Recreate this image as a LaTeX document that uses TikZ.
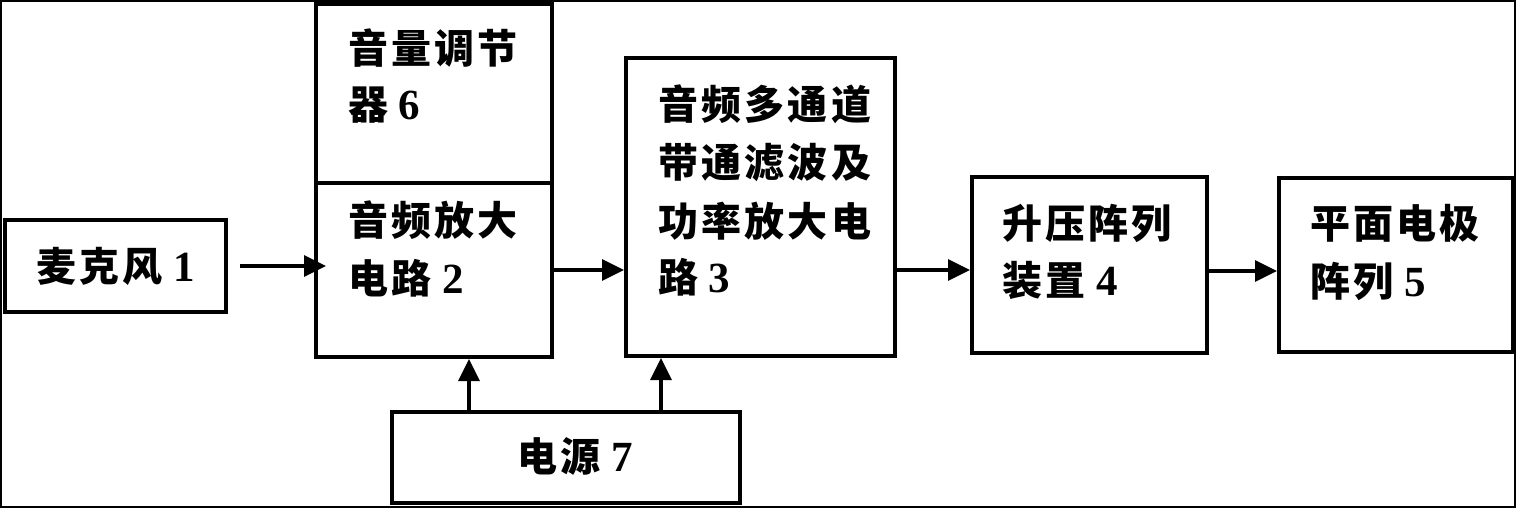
\documentclass[tikz,border=0pt]{standalone}
\usepackage{fontspec}
\setmainfont{Liberation Serif}
\newfontfamily\cjk[LetterSpace=8]{Noto Sans CJK SC}
\usetikzlibrary{arrows.meta,calc}
\newcommand{\zh}[1]{{\fontsize{40}{42}\selectfont\cjk\bfseries #1}}
\tikzset{
  blk/.style={draw=black, line width=4pt, rectangle, inner sep=0pt},
  lbl/.style={anchor=base west, inner sep=0pt, font=\fontsize{43}{45}\selectfont\bfseries},
  arr/.style={line width=3.2pt, -{Triangle[length=22pt,width=21pt]}},
}
\begin{document}
\begin{tikzpicture}[x=1pt,y=-1pt]
\useasboundingbox (0,0) rectangle (1516,508);
\draw[line width=2.5pt] (1,1) rectangle (1515,507);
% boxes
\node[blk, minimum width=221pt, minimum height=92pt] (mic) at (115.5,266) {};
\node[blk, minimum width=236pt, minimum height=179pt] (vol) at (434,93.5) {};
\node[blk, minimum width=236pt, minimum height=174pt] (amp) at (434,270) {};
\node[blk, minimum width=348pt, minimum height=91pt] (pwr) at (566,457.5) {};
\node[blk, minimum width=269pt, minimum height=298pt] (flt) at (760.5,207) {};
\node[blk, minimum width=235pt, minimum height=176pt] (boost) at (1089.5,265) {};
\node[blk, minimum width=234pt, minimum height=174pt] (elec) at (1396,265) {};
% labels
\node[lbl] (t1) at (36,281) {\zh{麦克风} 1};
\node[lbl] (t6a) at (348,64) {\zh{音量调节}};
\node[lbl] (t6b) at (348,120) {\zh{器} 6};
\node[lbl] (t2a) at (348,235) {\zh{音频放大}};
\node[lbl] (t2b) at (348,293) {\zh{电路} 2};
\node[lbl] (t3a) at (658,120) {\zh{音频多通道}};
\node[lbl] (t3b) at (658,178) {\zh{带通滤波及}};
\node[lbl] (t3c) at (658,236) {\zh{功率放大电}};
\node[lbl] (t3d) at (658,292) {\zh{路} 3};
\node[lbl] (t4a) at (1002,238) {\zh{升压阵列}};
\node[lbl] (t4b) at (1002,295) {\zh{装置} 4};
\node[lbl] (t5a) at (1310,238) {\zh{平面电极}};
\node[lbl] (t5b) at (1310,296) {\zh{阵列} 5};
\node[lbl] (t7) at (517,471) {\zh{电源} 7};
% connectors
\draw[arr] ([xshift=12pt]mic.east) -- ([xshift=12pt]mic.east -| amp.west);
\draw[arr] (amp.east) -- (amp.east -| flt.west);
\draw[arr] (flt.east |- amp.east) -- (boost.west |- amp.east);
\draw[arr] ([yshift=-6pt]boost.east) -- ([yshift=-6pt]boost.east -| elec.west);
\draw[arr] ([xshift=79pt]pwr.north west) -- ([xshift=79pt]pwr.north west |- amp.south);
\draw[arr] ([xshift=271pt]pwr.north west) -- ([xshift=271pt]pwr.north west |- flt.south);
\end{tikzpicture}
\end{document}
